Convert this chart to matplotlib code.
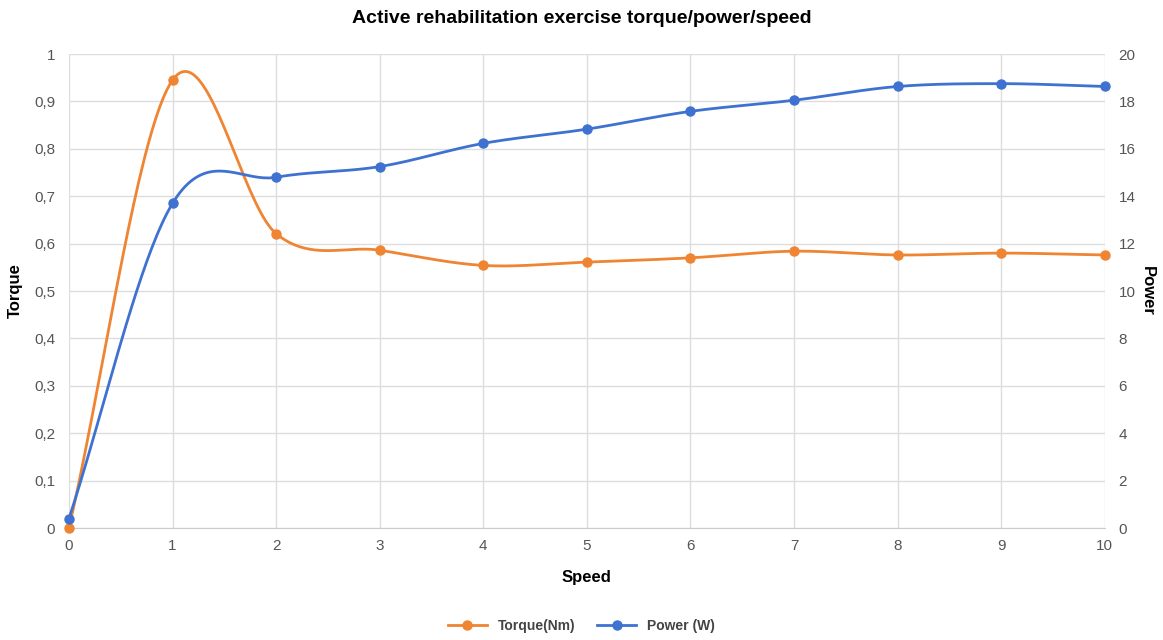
import matplotlib.pyplot as plt
import numpy as np

speed = [0, 1, 2, 3, 4, 5, 6, 7, 8, 9, 10]
torque = [0.0, 0.945, 0.621, 0.586, 0.554, 0.561, 0.570, 0.584, 0.576, 0.580, 0.576]
power = [0.4, 13.7, 14.8, 15.25, 16.23, 16.83, 17.58, 18.05, 18.63, 18.75, 18.63]

left_ticks = [0, 0.1, 0.2, 0.3, 0.4, 0.5, 0.6, 0.7, 0.8, 0.9, 1]
right_ticks = [0, 2, 4, 6, 8, 10, 12, 14, 16, 18, 20]

plt.rcParams['font.family'] = ['Liberation Sans', 'DejaVu Sans']

orange = '#ef8433'
blue = '#3f72d0'
grey_txt = '#555555'


def smooth(x, y, n=40):
    # catmull-rom curve through the points (drawing only)
    x = np.asarray(x, float)
    y = np.asarray(y, float)
    m = np.zeros_like(y)
    m[1:-1] = (y[2:] - y[:-2]) / (x[2:] - x[:-2])
    m[0] = (y[1] - y[0]) / (x[1] - x[0])
    m[-1] = (y[-1] - y[-2]) / (x[-1] - x[-2])
    xs, ys = [], []
    for i in range(len(x) - 1):
        h = x[i + 1] - x[i]
        t = np.linspace(0, 1, n, endpoint=False)
        h00 = 2*t**3 - 3*t**2 + 1
        h10 = t**3 - 2*t**2 + t
        h01 = -2*t**3 + 3*t**2
        h11 = t**3 - t**2
        xs.append(x[i] + t*h)
        ys.append(h00*y[i] + h10*h*m[i] + h01*y[i+1] + h11*h*m[i+1])
    xs.append([x[-1]])
    ys.append([y[-1]])
    return np.concatenate(xs), np.concatenate(ys)


fig = plt.figure(figsize=(11.63, 6.4), dpi=100)
ax = fig.add_axes([0.0593, 0.175, 0.8907, 0.7406])
ax2 = ax.twinx()

ax.set_xlim(0, 10)
ax.set_ylim(0, 1)
ax2.set_ylim(0, 20)
ax.set_xticks(speed)
ax.set_yticks(left_ticks)
ax.set_yticklabels([f'{v:g}'.replace('.', ',') for v in left_ticks])
ax2.set_yticks(right_ticks)

ax.grid(True, color='#dddddd', linewidth=1)
ax.set_axisbelow(True)
for a in (ax, ax2):
    for s in a.spines.values():
        s.set_visible(False)
    a.tick_params(length=0, colors=grey_txt, labelsize=11)
ax.spines['bottom'].set_visible(True)
ax.spines['bottom'].set_color('#cccccc')
ax.tick_params(axis='y', pad=10)
ax.tick_params(axis='x', pad=8)
ax2.tick_params(axis='y', pad=10)

sx, sy = smooth(speed, torque)
ax.plot(sx, sy, color=orange, lw=2, zorder=3)
ax.plot(speed, torque, 'o', color=orange, ms=6.5, zorder=4, clip_on=False)

px, py = smooth(speed, power)
ax2.plot(px, py, color=blue, lw=2, zorder=3)
ax2.plot(speed, power, 'o', color=blue, ms=6.5, zorder=4, clip_on=False)

ax.set_xlabel('Speed', fontweight='bold', fontsize=12, labelpad=12)
ax.set_ylabel('Torque', fontweight='bold', fontsize=12, labelpad=8)
ax2.set_ylabel('Power', fontweight='bold', fontsize=12, rotation=270, labelpad=14)
fig.suptitle('Active rehabilitation exercise torque/power/speed', fontweight='bold',
             fontsize=14, y=0.985)

h1 = plt.Line2D([], [], color=orange, lw=2, marker='o', ms=6.5)
h2 = plt.Line2D([], [], color=blue, lw=2, marker='o', ms=6.5)
leg = fig.legend([h1, h2], ['Torque(Nm)', 'Power (W)'], loc='center',
                 bbox_to_anchor=(0.5, 0.022), ncol=2, frameon=False,
                 prop={'weight': 'bold', 'size': 10}, handlelength=2.8, columnspacing=1.6)
for t in leg.get_texts():
    t.set_color('#444444')

fig.savefig('out.png', dpi=100)
